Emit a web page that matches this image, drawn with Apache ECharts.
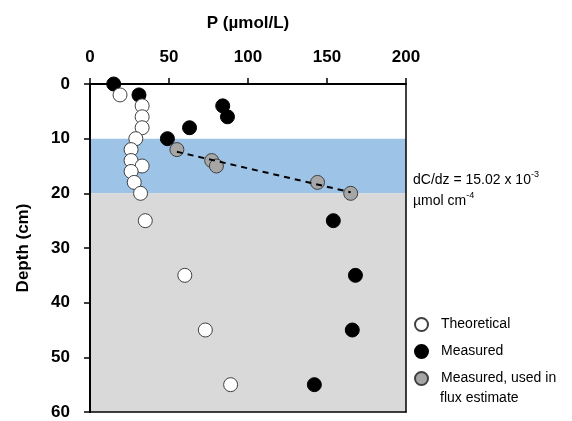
<!DOCTYPE html>
<html>
<head>
<meta charset="utf-8">
<script src="https://cdn.jsdelivr.net/npm/echarts@6/dist/echarts.min.js"></script>
<style>
  html, body { margin: 0; padding: 0; background: #fff; }
  #chart { width: 572px; height: 421px; }
</style>
</head>
<body>
<div id="chart"></div>
<script>
// P concentration (µmol/L) against depth (cm)
const theoX = [19, 33, 33, 33, 29, 26, 26, 33, 26, 28, 32, 35, 60, 73, 89]
const theoDepth = [2, 4, 6, 8, 10, 12, 14, 15, 16, 18, 20, 25, 35, 45, 55]
const measX = [15, 31, 84, 87, 63, 49, 154, 168, 166, 142]
const measDepth = [0, 2, 4, 6, 8, 10, 25, 35, 45, 55]
const fluxX = [55, 77, 80, 144, 165]
const fluxDepth = [12, 14, 15, 18, 20]
const fitX = [55, 165]
const fitDepth = [12.4, 19.8]
const blueBand = [10, 20]
const greyBand = [20, 60]
const xTicks = [0, 50, 100, 150, 200]
const depthTicks = [0, 10, 20, 30, 40, 50, 60]

const fluxName = 'Measured, used in flux estimate'
const font = 'Liberation Sans, Arial, sans-serif'

const pairs = (xs, ys) => xs.map((x, i) => [x, ys[i]])

const chart = echarts.init(document.getElementById('chart'))

chart.setOption({
  animation: false,
  textStyle: { fontFamily: font },
  grid: { left: 90, top: 84, width: 316, height: 328 },
  xAxis: [
    {
      type: 'value',
      position: 'top',
      min: xTicks[0],
      max: xTicks[xTicks.length - 1],
      interval: 50,
      name: 'P (µmol/L)',
      nameLocation: 'middle',
      nameGap: 52,
      nameTextStyle: { fontSize: 17, fontWeight: 'bold', color: '#000' },
      z: 10,
      axisLine: { show: true, lineStyle: { color: '#000', width: 2 } },
      axisTick: { show: true, inside: false, length: 6, lineStyle: { color: '#000', width: 1.5 } },
      axisLabel: { margin: 18, fontSize: 17, fontWeight: 'bold', color: '#000' },
      splitLine: { show: false }
    },
    {
      type: 'value',
      position: 'bottom',
      min: 0,
      max: 200,
      z: 10,
      axisLine: { show: true, onZero: false, lineStyle: { color: '#000', width: 1.5 } },
      axisTick: { show: false },
      axisLabel: { show: false },
      splitLine: { show: false }
    }
  ],
  yAxis: [
    {
      type: 'value',
      inverse: true,
      min: depthTicks[0],
      max: depthTicks[depthTicks.length - 1],
      interval: 10,
      name: 'Depth (cm)',
      nameLocation: 'middle',
      nameGap: 58,
      nameRotate: 90,
      nameTextStyle: { fontSize: 17, fontWeight: 'bold', color: '#000' },
      z: 10,
      axisLine: { show: true, onZero: false, lineStyle: { color: '#000', width: 2 } },
      axisTick: { show: true, inside: false, length: 6, lineStyle: { color: '#000', width: 1.5 } },
      axisLabel: { margin: 20, fontSize: 17, fontWeight: 'bold', color: '#000' },
      splitLine: { show: false }
    },
    {
      type: 'value',
      position: 'right',
      inverse: true,
      min: 0,
      max: 60,
      z: 10,
      axisLine: { show: true, onZero: false, lineStyle: { color: '#000', width: 1.5 } },
      axisTick: { show: false },
      axisLabel: { show: false },
      splitLine: { show: false }
    }
  ],
  legend: {
    orient: 'vertical',
    left: 414,
    top: 314,
    padding: 0,
    itemWidth: 13,
    itemHeight: 13,
    itemGap: 6,
    icon: 'circle',
    textStyle: { fontSize: 14, color: '#000', lineHeight: 21, padding: [0, 0, 0, 8] },
    formatter: (name) => (name === fluxName ? 'Measured, used in' : name),
    data: ['Theoretical', 'Measured', fluxName]
  },
  graphic: [
    {
      type: 'text',
      left: 413,
      top: 170,
      style: {
        text: 'dC/dz = 15.02 x 10{sup|-3}\nµmol cm{sup|-4}',
        font: '14px ' + font,
        fill: '#000',
        lineHeight: 21,
        rich: {
          sup: { fontSize: 9, verticalAlign: 'top', padding: [0, 0, 7, 0] }
        }
      }
    },
    {
      type: 'text',
      left: 440,
      top: 391,
      style: { text: 'flux estimate', font: '14px ' + font, fill: '#000' }
    }
  ],
  series: [
    {
      name: 'bands',
      type: 'scatter',
      data: [],
      silent: true,
      markArea: {
        silent: true,
        data: [
          [{ yAxis: blueBand[0], itemStyle: { color: '#9DC3E6' } }, { yAxis: blueBand[1] }],
          [{ yAxis: greyBand[0], itemStyle: { color: '#D9D9D9' } }, { yAxis: greyBand[1] }]
        ]
      }
    },
    {
      name: 'Measured',
      type: 'scatter',
      clip: false,
      symbol: 'circle',
      symbolSize: 14,
      itemStyle: { color: '#000', borderColor: '#000', borderWidth: 1, opacity: 1 },
      data: pairs(measX, measDepth)
    },
    {
      name: fluxName,
      type: 'scatter',
      clip: false,
      symbol: 'circle',
      symbolSize: 14,
      itemStyle: { color: '#A6A6A6', borderColor: '#404040', borderWidth: 1, opacity: 1 },
      data: pairs(fluxX, fluxDepth)
    },
    {
      name: 'fit',
      type: 'line',
      symbol: 'none',
      silent: true,
      lineStyle: { color: '#000', width: 2, type: [6, 5] },
      data: pairs(fitX, fitDepth)
    },
    {
      name: 'Theoretical',
      type: 'scatter',
      clip: false,
      symbol: 'circle',
      symbolSize: 14,
      itemStyle: { color: '#fff', borderColor: '#404040', borderWidth: 1, opacity: 1 },
      data: pairs(theoX, theoDepth)
    }
  ]
})
</script>
</body>
</html>
